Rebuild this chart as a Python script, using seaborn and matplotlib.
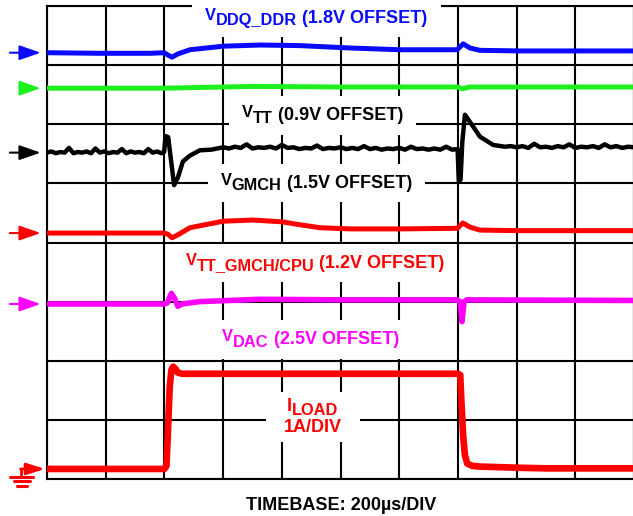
import matplotlib
matplotlib.use("Agg")
import matplotlib.pyplot as plt
from matplotlib.patches import Rectangle
from matplotlib.transforms import offset_copy, Bbox
import seaborn as sns

# =========================
# TRACE DATA (time in us, level in screen divisions)
# =========================

vddq_t = [0, 180, 351, 399, 412, 426, 446, 487, 600, 726, 862, 1032, 1203, 1397, 1418, 1441, 1475, 1612, 2000]
vddq_v = [7.21, 7.20, 7.20, 7.21, 7.17, 7.135, 7.19, 7.26, 7.32, 7.34, 7.33, 7.29, 7.26, 7.26, 7.36, 7.29, 7.25, 7.24, 7.24]

vtt_t = [0, 400, 700, 1000, 1400, 1415, 1440, 2000]
vtt_v = [6.61, 6.61, 6.64, 6.63, 6.63, 6.60, 6.63, 6.63]

vgmch_t = [0, 15, 30, 45, 60, 75, 90, 105, 120, 135, 150, 165, 180, 195, 210, 225, 240, 255, 270, 285,
           300, 315, 330, 345, 360, 375, 390, 399,
           404, 413, 433, 446, 463, 487, 521, 560, 600,
           620, 640, 660, 680, 700, 720, 740, 760, 780, 800, 820, 840, 860, 880, 900, 920, 940, 960, 980,
           1000, 1020, 1040, 1060, 1080, 1100, 1120, 1140, 1160, 1180, 1200, 1220, 1240, 1260, 1280, 1300,
           1320, 1340, 1360, 1380, 1399,
           1403, 1409, 1415, 1424, 1441, 1475, 1520, 1560,
           1580, 1600, 1620, 1640, 1660, 1680, 1700, 1720, 1740, 1760, 1780, 1800, 1820, 1840, 1860, 1880,
           1900, 1920, 1940, 1960, 1980, 2000]
vgmch_v = [5.52, 5.54, 5.51, 5.53, 5.52, 5.60, 5.51, 5.53, 5.52, 5.54, 5.51, 5.59, 5.52, 5.54, 5.51, 5.53, 5.52, 5.58, 5.51, 5.54,
           5.52, 5.53, 5.51, 5.58, 5.52, 5.54, 5.51, 5.53,
           5.80, 5.78, 4.97, 5.10, 5.37, 5.47, 5.56, 5.57, 5.61,
           5.59, 5.62, 5.60, 5.66, 5.59, 5.61, 5.60, 5.62, 5.59, 5.65, 5.60, 5.61, 5.58, 5.60, 5.59, 5.64, 5.58, 5.60, 5.59,
           5.61, 5.58, 5.60, 5.58, 5.63, 5.58, 5.60, 5.57, 5.59, 5.58, 5.60, 5.57, 5.62, 5.58, 5.59, 5.57,
           5.59, 5.57, 5.62, 5.57, 5.58,
           5.04, 5.06, 5.70, 6.16, 6.04, 5.79, 5.65, 5.62,
           5.63, 5.61, 5.63, 5.60, 5.67, 5.61, 5.62, 5.60, 5.63, 5.61, 5.66, 5.60, 5.62, 5.61, 5.63, 5.60,
           5.66, 5.61, 5.63, 5.60, 5.62, 5.61]

vcpu_t = [0, 398, 412, 426, 446, 487, 600, 700, 800, 862, 930, 1032, 1200, 1398, 1417, 1441, 1475, 1610, 2000]
vcpu_v = [4.16, 4.16, 4.14, 4.08, 4.13, 4.25, 4.36, 4.38, 4.35, 4.30, 4.25, 4.23, 4.23, 4.24, 4.33, 4.26, 4.21, 4.20, 4.20]

vdac_t = [0, 398, 410, 424, 435, 446, 460, 520, 726, 1000, 1397, 1407, 1414, 1421, 1430, 2000]
vdac_v = [2.96, 2.96, 2.98, 3.14, 3.05, 2.92, 2.96, 3.00, 3.04, 3.03, 3.03, 3.00, 2.66, 3.00, 3.03, 3.02]

iload_t = [0, 400, 407, 412, 418, 424, 430, 438, 446, 460, 1400, 1408, 1412, 1418, 1424, 1432, 1450, 1475, 1610, 1700, 2000]
iload_v = [0.17, 0.17, 0.22, 0.80, 1.55, 1.85, 1.90, 1.86, 1.80, 1.78, 1.78, 1.76, 1.30, 0.72, 0.40, 0.26, 0.22, 0.21, 0.19, 0.18, 0.18]

# label text: main letter, subscript, rest
label_main = ["V", "V", "V", "V", "V", "I"]
label_sub = ["DDQ_DDR", "TT", "GMCH", "TT_GMCH/CPU", "DAC", "LOAD"]
label_rest = ["(1.8V OFFSET)", "(0.9V OFFSET)", "(1.5V OFFSET)", "(1.2V OFFSET)", "(2.5V OFFSET)", ""]
label_x = [918, 939, 918, 913, 898, 906]
label_y = [7.72, 6.07, 4.93, 3.57, 2.28, 1.15]

BLUE = "#0a0aff"
GREEN = "#1ef01e"
BLACK = "#000000"
RED = "#ff0000"
MAGENTA = "#ff00ff"

# =========================
# STYLE
# =========================

sns.set_theme(style="white")
plt.rcParams["font.family"] = ["Liberation Sans", "DejaVu Sans"]

fig = plt.figure(figsize=(6.33, 5.16), dpi=100)
ax = fig.add_axes([47 / 633, 37 / 516, 587 / 633, 473 / 516])

ax.set_xlim(0, 2000)
ax.set_ylim(0, 8)
ax.set_xticks(range(0, 2001, 200))
ax.set_yticks(range(0, 9))
ax.set_xticklabels([])
ax.set_yticklabels([])
ax.tick_params(length=0)
ax.grid(True, color="black", linewidth=1.5)
for s in ax.spines.values():
    s.set_color("black")
    s.set_linewidth(1.5)

# =========================
# TRACES
# =========================

traces = [
    (vddq_t, vddq_v, BLUE, 3.6),
    (vtt_t, vtt_v, GREEN, 3.6),
    (vgmch_t, vgmch_v, BLACK, 3.2),
    (vcpu_t, vcpu_v, RED, 3.6),
    (vdac_t, vdac_v, MAGENTA, 4.0),
    (iload_t, iload_v, RED, 4.8),
]
for t, v, c, lw in traces:
    sns.lineplot(x=t, y=v, ax=ax, color=c, linewidth=lw, sort=False,
                 estimator=None, zorder=4)

# level arrows on the left
arrow_start = [-136, -85, -136, -136, -136]
for (t, v, c, lw), xs in zip(traces[:5], arrow_start):
    ax.annotate("", xy=(-12, v[0]), xytext=(xs, v[0]),
                arrowprops=dict(arrowstyle="-|>,head_length=1.3,head_width=0.45",
                                mutation_scale=10, color=c, lw=1.5),
                annotation_clip=False)

# ground marker for the load current
g = iload_v[0]
ax.annotate("", xy=(-7, g), xytext=(-90, g),
            arrowprops=dict(arrowstyle="-|>,head_length=1.1,head_width=0.35",
                            mutation_scale=10, color=RED, lw=2, shrinkA=0, shrinkB=0),
            annotation_clip=False)
ax.plot([-90, -90], [g, 0.03], color=RED, lw=2, clip_on=False)
ax.plot([-126, -49], [0.03, 0.03], color=RED, lw=2.2, clip_on=False)
ax.plot([-112, -58], [-0.04, -0.04], color=RED, lw=2.2, clip_on=False)
ax.plot([-103, -67], [-0.11, -0.11], color=RED, lw=2.2, clip_on=False)

# =========================
# LABELS (subscripts built from pieces, one white box behind each)
# =========================

fig.canvas.draw()
renderer = fig.canvas.get_renderer()


def rich_label(x, y, pieces, color, extra=(), padx=13, pady=9):
    # pieces: (text, fontsize, vertical shift px, gap before px)
    arts = []
    total = 0
    for txt, size, dy, gap in pieces:
        t = ax.text(x, y, txt, fontsize=size, fontweight="bold", color=color,
                    ha="left", va="baseline", zorder=3)
        w = t.get_window_extent(renderer).width
        arts.append((t, dy, gap, w))
        total += w + gap
    pos = -total / 2
    for t, dy, gap, w in arts:
        pos += gap
        t.set_transform(offset_copy(ax.transData, fig=fig, x=pos, y=dy, units="dots"))
        pos += w
    bb = Bbox.union([a[0].get_window_extent(renderer) for a in arts] +
                    [e.get_window_extent(renderer) for e in extra])
    (x0, y0), (x1, y1) = ax.transData.inverted().transform(
        [[bb.x0 - padx, bb.y0 - pady], [bb.x1 + padx, bb.y1 + pady]])
    ax.add_patch(Rectangle((x0, y0), x1 - x0, y1 - y0, facecolor="white",
                           edgecolor="none", zorder=2.8, clip_on=False))


load_scale = ax.text(906, 0.795, "1A/DIV", ha="center", va="baseline", fontsize=13,
                     fontweight="bold", color=RED, zorder=3)

label_colors = [BLUE, BLACK, BLACK, RED, MAGENTA, RED]
for m, sb, rest, x, y, c in zip(label_main, label_sub, label_rest,
                                label_x, label_y, label_colors):
    if rest:
        pieces = [(m, 11.8, 3, 0), (sb, 11.8, -2.5, 0), (rest, 13, 0, 5)]
        rich_label(x, y, pieces, c)
    else:
        pieces = [(m, 13, 0, 0), (sb, 11.8, -4, 0)]
        rich_label(x, y, pieces, c, extra=[load_scale], padx=18, pady=6)

ax.text(1003, -0.525, "TIMEBASE: 200µs/DIV", ha="center", va="baseline",
        fontsize=13, fontweight="bold", color="black")

fig.savefig("out.png", dpi=100)
plt.close(fig)
